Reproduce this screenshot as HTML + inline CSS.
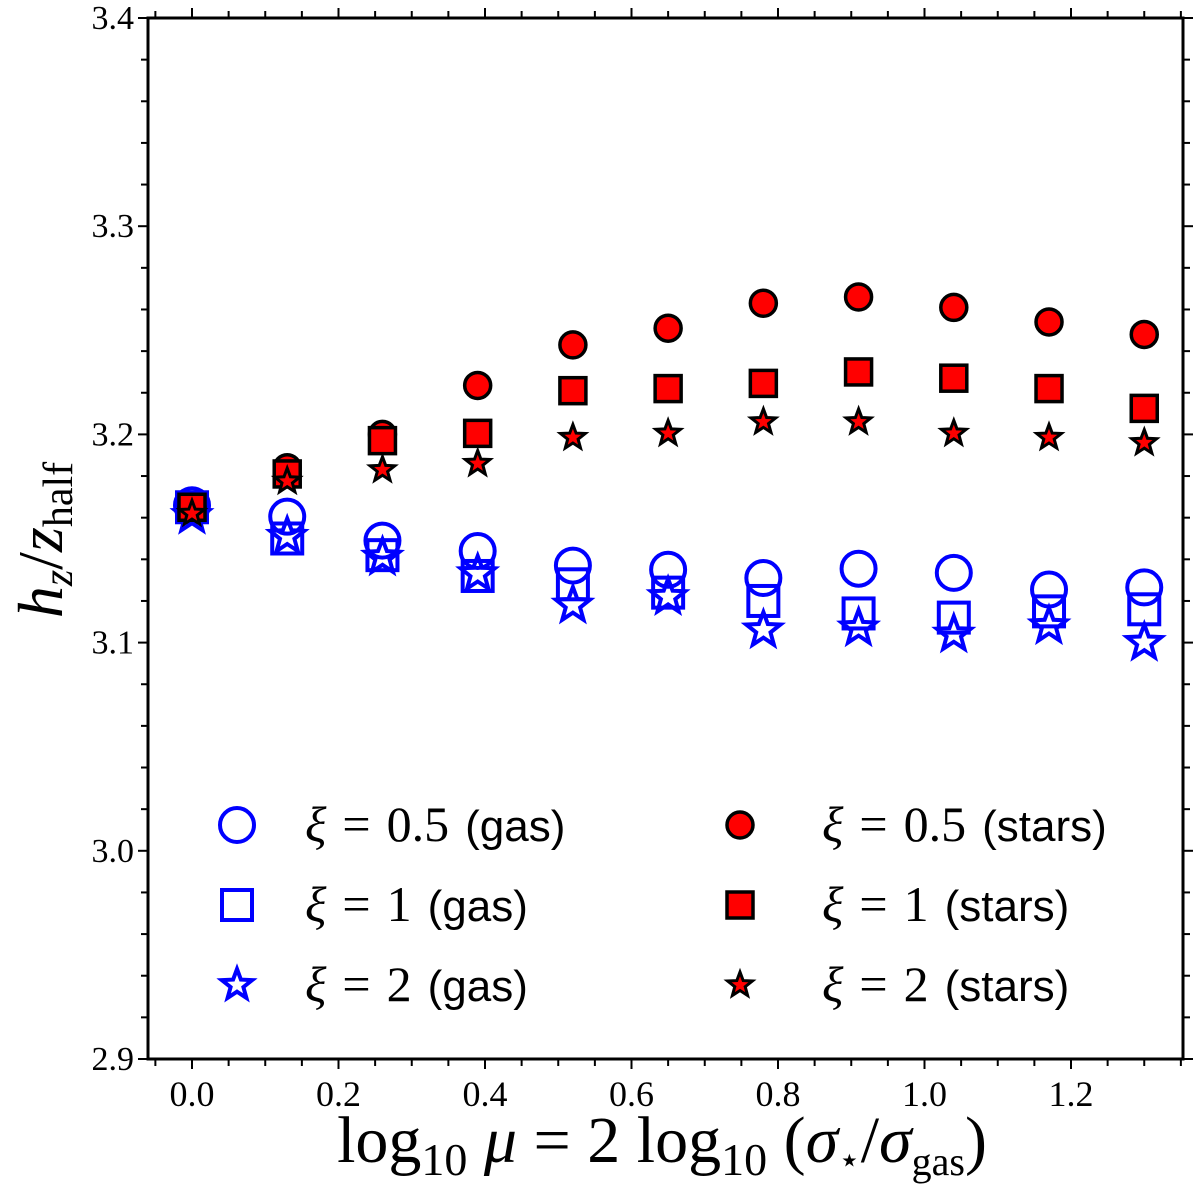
<!DOCTYPE html>
<html><head><meta charset="utf-8"><style>
html,body{margin:0;padding:0;background:#fff;}
svg{display:block;font-family:"Liberation Serif",serif;}
</style></head><body>
<svg id="chart" width="1200" height="1198" viewBox="0 0 1200 1198" xmlns="http://www.w3.org/2000/svg">
<g id="marks"></g>
<g id="axes"></g>
<g id="legend"></g>
</svg>
<script>
const xValues = [0, 0.13, 0.26, 0.39, 0.52, 0.65, 0.78, 0.91, 1.04, 1.17, 1.30];
const starsXi05 = [3.165, 3.184, 3.200, 3.2235, 3.243, 3.251, 3.263, 3.266, 3.261, 3.254, 3.248];
const starsXi1 = [3.165, 3.181, 3.197, 3.2005, 3.221, 3.222, 3.2245, 3.230, 3.227, 3.222, 3.2125];
const starsXi2 = [3.162, 3.1775, 3.183, 3.186, 3.1985, 3.2005, 3.206, 3.206, 3.2005, 3.1985, 3.196];
const gasXi05 = [3.166, 3.1605, 3.149, 3.144, 3.137, 3.135, 3.131, 3.1355, 3.1335, 3.1255, 3.1265];
const gasXi1 = [3.165, 3.150, 3.142, 3.132, 3.128, 3.124, 3.120, 3.114, 3.112, 3.115, 3.116];
const gasXi2 = [3.161, 3.151, 3.141, 3.133, 3.118, 3.122, 3.106, 3.107, 3.104, 3.108, 3.100];
const xTickLabels = ["0.0","0.2","0.4","0.6","0.8","1.0","1.2"];
const yTickLabels = ["2.9","3.0","3.1","3.2","3.3","3.4"];

const NS="http://www.w3.org/2000/svg";
const L=148,R=1183,T=18,B=1059;
const X0=192, XS=732.5;
function sx(v){return X0+v*XS;}
function sy(v){return B-(v-2.9)/0.5*(B-T);}
function mk(tag,attrs,parent){const e=document.createElementNS(NS,tag);for(const k in attrs)e.setAttribute(k,attrs[k]);parent.appendChild(e);return e;}
function starPts(cx,cy,r){let p=[];for(let i=0;i<10;i++){const a=-Math.PI/2+i*Math.PI/5;const rr=i%2?r*0.42:r;p.push((cx+rr*Math.cos(a)).toFixed(1)+","+(cy+rr*Math.sin(a)).toFixed(1));}return p.join(" ");}
function marker(g,type,cx,cy,fill,stroke,size,sw){
  let e;
  if(type==="circle") e=mk("circle",{cx:cx,cy:cy,r:size,fill:fill,stroke:stroke,"stroke-width":sw},g);
  else if(type==="square") e=mk("rect",{x:cx-size,y:cy-size,width:2*size,height:2*size,fill:fill,stroke:stroke,"stroke-width":sw},g);
  else e=mk("polygon",{points:starPts(cx,cy,size),fill:fill,stroke:stroke,"stroke-width":sw,"stroke-linejoin":"miter"},g);
  return e;
}
const series=[
 {name:"gas-xi-0.5",data:gasXi05,type:"circle",fill:"none",stroke:"#0000ff",size:17,sw:4,ls:17},
 {name:"gas-xi-1",data:gasXi1,type:"square",fill:"none",stroke:"#0000ff",size:15,sw:4,ls:15},
 {name:"gas-xi-2",data:gasXi2,type:"star",fill:"none",stroke:"#0000ff",size:18,sw:4,ls:16},
 {name:"stars-xi-0.5",data:starsXi05,type:"circle",fill:"#ff0000",stroke:"#000",size:13,sw:3.5,ls:13},
 {name:"stars-xi-1",data:starsXi1,type:"square",fill:"#ff0000",stroke:"#000",size:13,sw:3.5,ls:13},
 {name:"stars-xi-2",data:starsXi2,type:"star",fill:"#ff0000",stroke:"#000",size:13,sw:3,ls:13},
];
const marks=document.getElementById("marks");
series.forEach(s=>{
  const g=mk("g",{},marks);
  
  
  s.data.forEach((v,i)=>{
    const e=marker(g,s.type,sx(xValues[i]),sy(v),s.fill,s.stroke,s.size,s.sw);
    
    
  });
});
const axes=document.getElementById("axes");
const frame=mk("rect",{x:L,y:T,width:R-L,height:B-T,fill:"none",stroke:"#000","stroke-width":3},axes);


for(let k=-1;k<=27;k++){
  const v=k*0.05,x=sx(v); if(x<L+2||x>R-2)continue;
  const major=k%4===0, len=major?10:7;
  mk("line",{x1:x,y1:B,x2:x,y2:B+len,stroke:"#000","stroke-width":2},axes);
  mk("line",{x1:x,y1:T,x2:x,y2:T-len,stroke:"#000","stroke-width":2},axes);
}
xTickLabels.forEach(t=>{
  const e=mk("text",{x:sx(parseFloat(t)),y:B+47,"text-anchor":"middle","font-size":36},axes);
  e.textContent=t;
  
  
});
for(let k=0;k<=25;k++){
  const v=2.9+k*0.02,y=sy(v);
  const major=k%5===0,len=major?10:7;
  mk("line",{x1:L,y1:y,x2:L-len,y2:y,stroke:"#000","stroke-width":2},axes);
  mk("line",{x1:R,y1:y,x2:R+len,y2:y,stroke:"#000","stroke-width":2},axes);
}
yTickLabels.forEach(t=>{
  const e=mk("text",{x:L-14,y:sy(parseFloat(t))+11,"text-anchor":"end","font-size":34},axes);
  e.textContent=t;
  
  
});
const xl=mk("text",{x:662,y:1162,"text-anchor":"middle","font-size":66},axes);
xl.innerHTML='log<tspan font-size="46" dy="13">10</tspan><tspan dy="-13" font-style="italic"> μ</tspan> = 2 log<tspan font-size="46" dy="13">10</tspan><tspan dy="-13"> (</tspan><tspan font-style="italic">σ</tspan><tspan font-size="36" dy="10">⋆</tspan><tspan dy="-10">/</tspan><tspan font-style="italic">σ</tspan><tspan font-size="40" dy="13">gas</tspan><tspan dy="-13">)</tspan>';


const yl=mk("text",{x:0,y:0,"text-anchor":"middle","font-size":64,transform:"translate(62,540) rotate(-90)"},axes);
yl.innerHTML='<tspan font-style="italic">h</tspan><tspan font-size="42" dy="10" font-style="italic">z</tspan><tspan dy="-10">/</tspan><tspan font-style="italic">z</tspan><tspan font-size="42" dy="10">half</tspan>';


const legend=document.getElementById("legend");
const rows=[825,905,985];
const labels=["0.5","1","2"];
series.forEach((s,i)=>{
  const col=i<3?0:1,row=i%3;
  const mx=col?740:237,tx=col?822:305,y=rows[row];
  const g=mk("g",{},legend);
  
  
  marker(g,s.type,mx,y,s.fill,s.stroke,s.ls,s.sw);
  const t=mk("text",{x:tx,y:y+16,"font-size":50},g);
  t.innerHTML='<tspan font-style="italic">ξ</tspan><tspan dx="16">=</tspan><tspan dx="16">'+labels[row]+'</tspan><tspan dx="16" font-family="Liberation Sans, sans-serif" font-size="44">('+(col?'stars':'gas')+')</tspan>';
});
</script>
</body></html>
